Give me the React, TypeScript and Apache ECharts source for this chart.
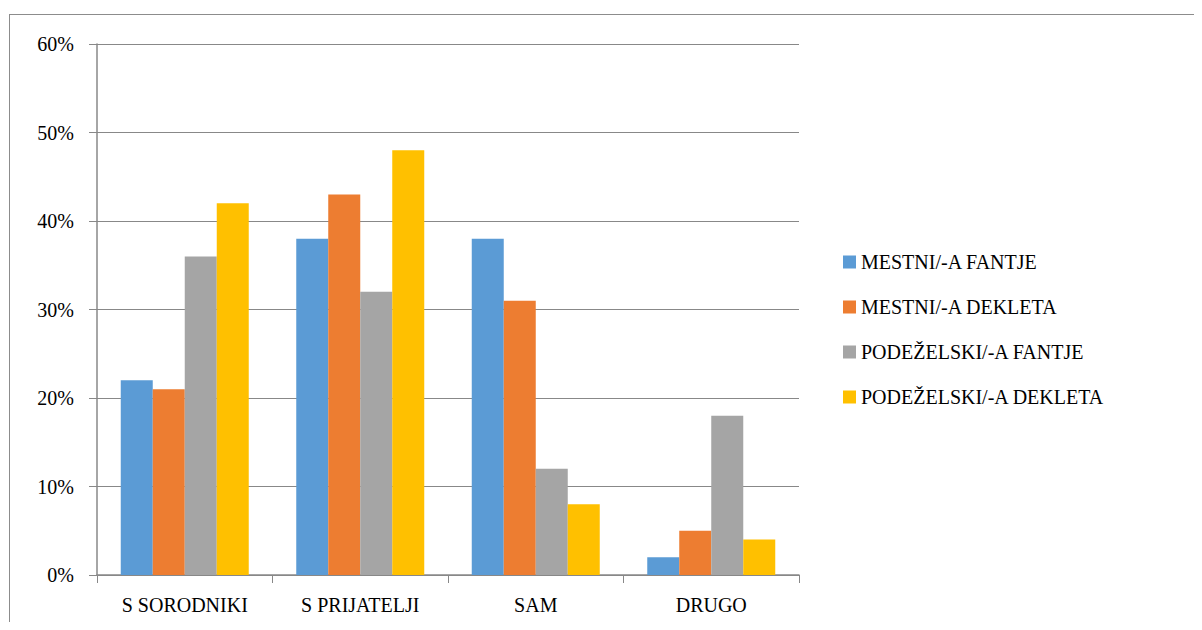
import React, { useEffect, useRef } from "react";
import * as echarts from "echarts";

const categories = ["S SORODNIKI", "S PRIJATELJI", "SAM", "DRUGO"];
const seriesNames = ["MESTNI/-A FANTJE", "MESTNI/-A DEKLETA", "PODEŽELSKI/-A FANTJE", "PODEŽELSKI/-A DEKLETA"];
const mestniFantje = [22, 38, 38, 2];
const mestniDekleta = [21, 43, 31, 5];
const podezelskiFantje = [36, 32, 12, 18];
const podezelskiDekleta = [42, 48, 8, 4];
const colors = ["#5B9BD5", "#ED7D31", "#A5A5A5", "#FFC000"];

export default function App() {
  const ref = useRef<HTMLDivElement>(null);
  useEffect(() => {
    const chart = echarts.init(ref.current!, null, { renderer: "svg" });
    const data = [mestniFantje, mestniDekleta, podezelskiFantje, podezelskiDekleta];
    chart.setOption({
      animation: false,
      grid: { left: 97, right: 403, top: 44, bottom: 55 },
      legend: {
        orient: "vertical",
        left: 838,
        top: 247,
        itemWidth: 13,
        itemHeight: 13,
        itemGap: 25,
        icon: "rect",
        textStyle: { fontFamily: "Liberation Serif", fontSize: 20, color: "#000" },
        data: seriesNames,
      },
      xAxis: {
        type: "category",
        data: categories,
        axisLine: { lineStyle: { color: "#888", width: 1.5 } },
        axisTick: { show: true, length: 8, lineStyle: { color: "#888" } },
        axisLabel: { margin: 20, fontFamily: "Liberation Serif", fontSize: 20, color: "#000" },
      },
      yAxis: {
        type: "value",
        min: 0,
        max: 60,
        interval: 10,
        axisLine: { show: true, lineStyle: { color: "#888", width: 1.5 } },
        axisTick: { show: true, length: 8, lineStyle: { color: "#888" } },
        splitLine: { lineStyle: { color: "#888", width: 1.2 } },
        axisLabel: {
          margin: 23,
          fontFamily: "Liberation Serif",
          fontSize: 20,
          color: "#000",
          formatter: (v: number) => v + "%",
        },
      },
      series: seriesNames.map((name, i) => ({
        name,
        type: "bar",
        data: data[i],
        barWidth: 32,
        barGap: "0%",
        itemStyle: { color: colors[i] },
      })),
    });
    return () => chart.dispose();
  }, []);
  return (
    <div style={{ margin: -8, position: "relative", width: 1202, height: 630, overflow: "hidden", background: "#fff" }}>
      <div
        style={{
          position: "absolute",
          left: 9,
          top: 14,
          width: 1200,
          height: 620,
          border: "1.5px solid #8c8c8c",
          boxSizing: "border-box",
        }}
      />
      <div ref={ref} style={{ position: "absolute", left: 0, top: 0, width: 1202, height: 630 }} />
    </div>
  );
}
